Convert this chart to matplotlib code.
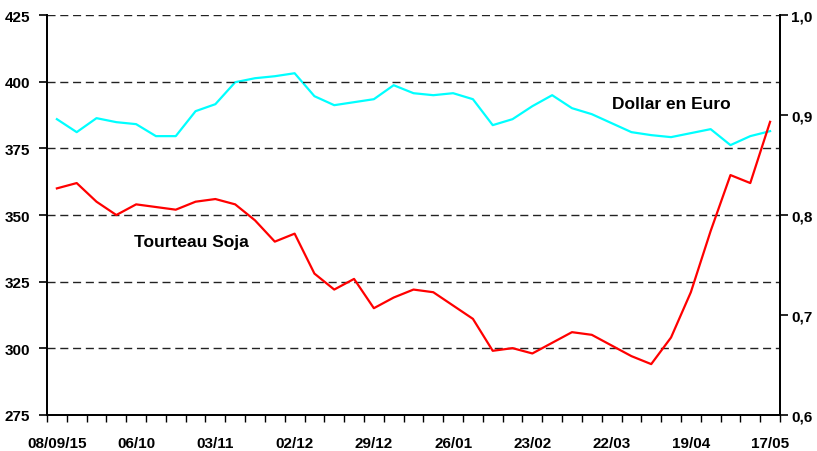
import matplotlib
matplotlib.use("Agg")
import matplotlib.pyplot as plt
from matplotlib.ticker import FixedLocator, FuncFormatter

plt.rcParams['font.family'] = ['Liberation Sans', 'DejaVu Sans']
plt.rcParams['font.weight'] = 'bold'

dates = ['08/09/15', '06/10', '03/11', '02/12', '29/12', '26/01', '23/02', '22/03', '19/04', '17/05']
tourteau = [360, 362, 355, 350, 354, 353, 352, 355, 356, 354,
            348, 340, 343, 328, 322, 326, 315, 319, 322, 321,
            316, 311, 299, 300, 298, 302, 306, 305, 301, 297,
            294, 304, 321, 344, 365, 362, 385]
dollar = [0.896, 0.883, 0.897, 0.893, 0.891, 0.879, 0.879, 0.904, 0.911, 0.933,
          0.937, 0.939, 0.942, 0.919, 0.910, 0.913, 0.916, 0.930, 0.922, 0.920,
          0.922, 0.916, 0.890, 0.896, 0.909, 0.920, 0.907, 0.901, 0.892, 0.883,
          0.880, 0.878, 0.882, 0.886, 0.870, 0.879, 0.884]
left_ticks = [275, 300, 325, 350, 375, 400, 425]
right_ticks = [0.6, 0.7, 0.8, 0.9, 1.0]

n = len(tourteau)
x = list(range(n))

fig = plt.figure(figsize=(8.17, 4.52), dpi=100)
ax = fig.add_axes([0.0575, 0.0803, 0.8972, 0.8836])
ax2 = ax.twinx()

ax.set_xlim(-0.5, n - 0.5)
ax.set_ylim(275, 425)
ax2.set_ylim(0.6, 1.0)

# grid lines
for v in left_ticks[1:]:
    ax.axhline(v, color='#222222', lw=1.0, linestyle=(0, (5.8, 3.4)), zorder=1)

ax2.plot(x, dollar, color='#00FFFF', lw=1.6, zorder=3)
ax.plot(x, tourteau, color='#FF0000', lw=1.6, zorder=3)
ax.set_zorder(ax2.get_zorder() + 1)
ax.patch.set_visible(False)

# spines
for a in (ax, ax2):
    a.spines['top'].set_visible(False)
    for s in ('left', 'right', 'bottom'):
        a.spines[s].set_linewidth(1.3)
        a.spines[s].set_color('black')

ax.set_yticks(left_ticks)
ax.set_yticklabels([str(v) for v in left_ticks])
ax.tick_params(axis='y', direction='out', length=6, width=1.2, pad=6, labelsize=11)

ax2.yaxis.set_major_locator(FixedLocator(right_ticks))
ax2.yaxis.set_major_formatter(FuncFormatter(lambda v, p: f"{v:.1f}".replace('.', ',')))
ax2.tick_params(axis='y', direction='out', length=6, width=1.2, pad=2, labelsize=11)

# x axis: ticks between categories, labels every 4
ax.set_xticks([i - 0.5 for i in range(n + 1)])
ax.set_xticklabels([])
ax.tick_params(axis='x', direction='out', length=5, width=1.0)
ax.set_xticks(list(range(0, n, 4)), minor=True)
ax.set_xticklabels(dates, minor=True)
ax.tick_params(axis='x', which='minor', length=0, pad=15, labelsize=11)

for lab in ax.get_yticklabels() + ax2.get_yticklabels() + ax.get_xticklabels(minor=True):
    lab.set_fontweight('bold')

ax.text(31.0, 391.7, 'Dollar en Euro', ha='center', va='center', fontsize=12.5, fontweight='bold')
ax.text(6.8, 340.1, 'Tourteau Soja', ha='center', va='center', fontsize=12.5, fontweight='bold')

fig.savefig('out.png', dpi=100)
